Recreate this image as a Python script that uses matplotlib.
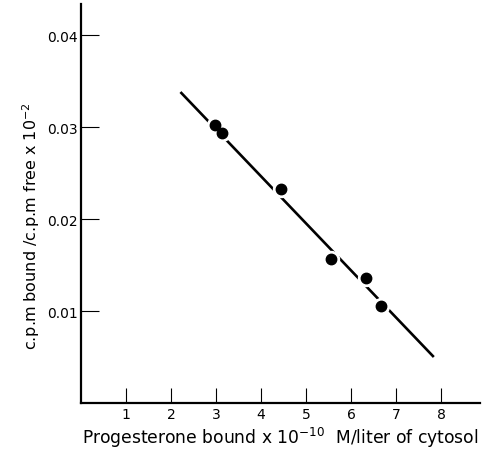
import matplotlib
matplotlib.use("Agg")
import matplotlib.pyplot as plt

plt.rcParams['font.family'] = ['DejaVu Sans']

# data
bound = [2.98, 3.14, 4.44, 5.56, 6.33, 6.66]
ratio = [0.0302, 0.0293, 0.0233, 0.0156, 0.0136, 0.0105]
fit_x = [2.21, 7.84]
fit_y = [0.0338, 0.0050]
xticks = [1, 2, 3, 4, 5, 6, 7, 8]
yticks = [0.01, 0.02, 0.03, 0.04]
ytick_labels = ["0.01", "0.02", "0.03", "0.04"]

W, H = 482, 452
fig = plt.figure(figsize=(W / 100, H / 100), dpi=100)
ax = fig.add_axes([81 / W, 48 / H, (480 - 81) / W, (404 - 5) / H])

ax.plot(fit_x, fit_y, color='black', lw=1.9, solid_capstyle='butt', zorder=2)
ax.plot(bound, ratio, linestyle='none', marker='o', markersize=11.5,
        markerfacecolor='white', markeredgecolor='white', zorder=3)
ax.plot(bound, ratio, linestyle='none', marker='o', markersize=7.5,
        markerfacecolor='black', markeredgecolor='black', zorder=4)

ax.set_xlim(0, (480 - 81) / 45)
ax.set_ylim(0, (404 - 5) / 9200)

for s in ['top', 'right']:
    ax.spines[s].set_visible(False)
for s in ['left', 'bottom']:
    ax.spines[s].set_linewidth(1.6)

ax.set_xticks(xticks)
ax.set_xticklabels([str(v) for v in xticks])
ax.set_yticks(yticks)
ax.set_yticklabels(ytick_labels)
ax.tick_params(axis='x', direction='in', length=11, width=0.8, pad=3, labelsize=10)
ax.tick_params(axis='y', direction='in', length=13, width=0.8, pad=2.5, labelsize=10)

ax.set_xlabel("Progesterone bound x 10$^{-10}$  M/liter of cytosol", fontsize=12.3, labelpad=3)
ax.set_ylabel("c.p.m bound /c.p.m free x 10$^{-2}$", fontsize=11.5)
ax.yaxis.set_label_coords(-0.098, 0.446)

fig.savefig("out.png", dpi=100)
